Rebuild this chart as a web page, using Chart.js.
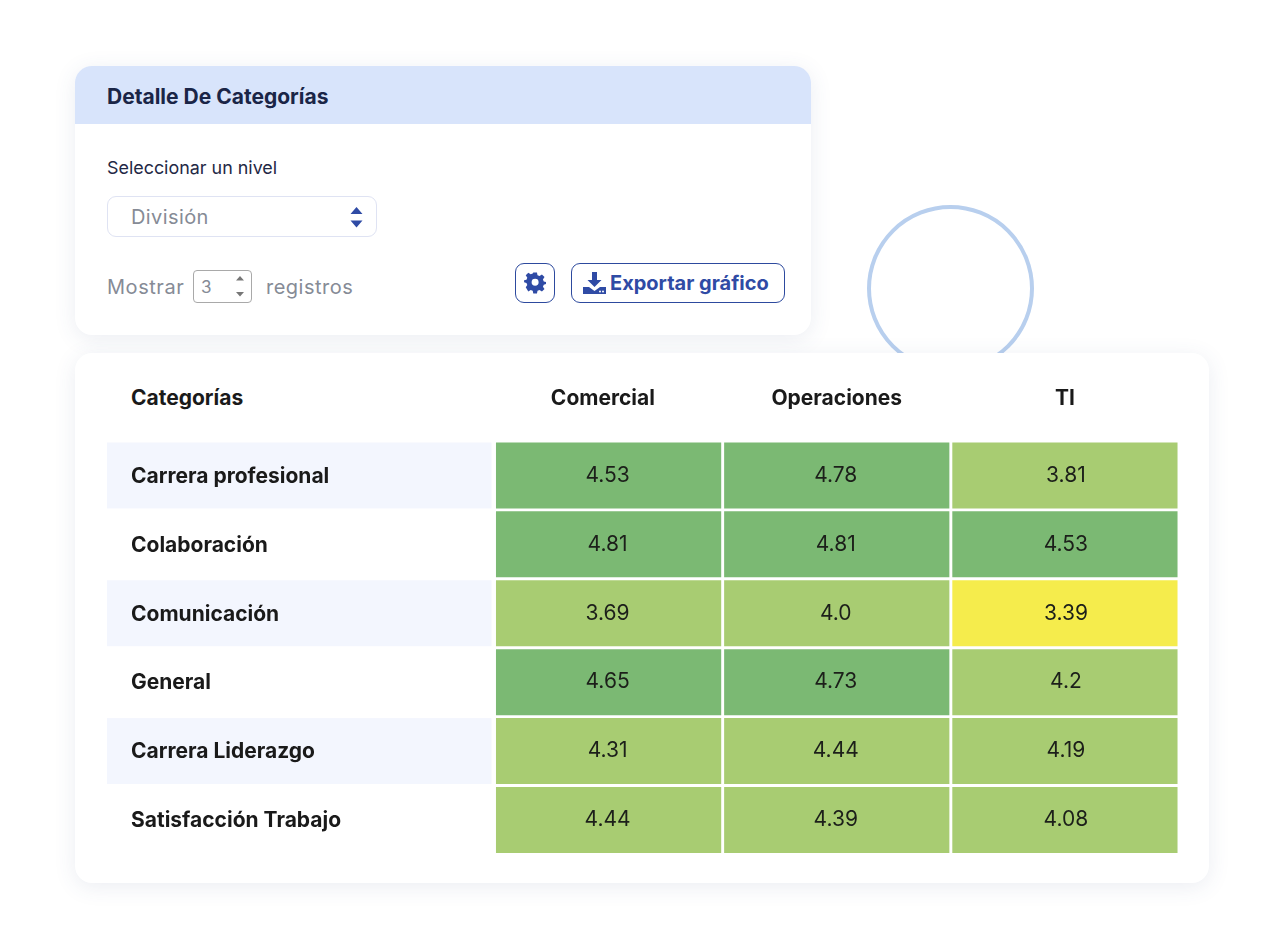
<!DOCTYPE html>
<html lang="es">
<head>
<meta charset="utf-8">
<title>Detalle De Categorías</title>
<script src="https://cdn.jsdelivr.net/npm/chart.js@4"></script>
<style>
*{box-sizing:border-box}
html,body{margin:0;padding:0;background:#fff}
body{width:1280px;height:950px;position:relative;overflow:hidden;font-family:Inter,sans-serif}
.abs{position:absolute;white-space:nowrap;line-height:1}
.ring{position:absolute;left:867px;top:205px;width:167px;height:167px;border:4.5px solid #b8cfee;border-radius:50%}
.card{position:absolute;background:#fff;border-radius:17px;box-shadow:0 4px 22px rgba(60,80,130,.10)}
#top{left:75px;top:66px;width:736px;height:269px;overflow:hidden}
#head{position:absolute;left:0;top:0;width:736px;height:58px;background:#d8e4fb}
#bottom{left:75px;top:353px;width:1134px;height:530px}
.select{left:107px;top:196px;width:270px;height:41px;border:1px solid #dfe3f3;border-radius:9px;background:#fff}
.spin{left:193px;top:270px;width:59px;height:33px;border:1px solid #a9a9a9;border-radius:4px}
.btn{border:1.3px solid #2d4a9e;border-radius:9px;background:#fff}
#wrap{position:absolute;left:107px;top:375px;width:1072px;height:492px}
</style>
</head>
<body>
<div class="ring"></div>
<div class="card" id="top"><div id="head"></div></div>
<div class="card" id="bottom"></div>

<div class="abs" style="left:107px;top:86px;font-size:21px;font-weight:700;color:#1a2547">Detalle De Categorías</div>
<div class="abs" style="left:107px;top:159px;font-size:17.9px;color:#1f2845">Seleccionar un nivel</div>
<div class="abs select"></div>
<div class="abs" style="left:131px;top:207px;font-size:20px;letter-spacing:.4px;color:#868b96">División</div>
<svg class="abs" style="left:350px;top:207px" width="13" height="21" viewBox="0 0 13 21"><path d="M6.5 0 L12.5 7 H.5Z M.5 13.5 H12.5 L6.5 20.5Z" fill="#2f4ba5"/></svg>
<div class="abs" style="left:107px;top:277px;font-size:20px;letter-spacing:.55px;color:#868b96">Mostrar</div>
<div class="abs spin"></div>
<div class="abs" style="left:201px;top:279px;font-size:17px;color:#868b96">3</div>
<svg class="abs" style="left:235px;top:276px" width="10" height="21" viewBox="0 0 10 21"><path d="M5 0 L9 4.500 H1Z M1 16 H9 L5 20.500Z" fill="#777"/></svg>
<div class="abs" style="left:266px;top:277px;font-size:20px;letter-spacing:.5px;color:#868b96">registros</div>

<div class="abs btn" style="left:515px;top:263px;width:40px;height:40px"></div>
<svg class="abs" style="left:524px;top:272px" width="22" height="22" viewBox="0 0 22 22"><path fill="#2f4ba5" fill-rule="evenodd" d="M9 .5h4l.6 3 2.200.9 2.600-1.700 2.800 2.800-1.700 2.600.9 2.200 2.600.6v2.200l-2.600.7-.9 2.200 1.700 2.500-2.800 2.800-2.600-1.700-2.200.9-.6 2.900H9l-.6-2.900-2.200-.9-2.600 1.700L.8 16.600l1.700-2.500-.9-2.200L-1 11.200V9l2.600-.6.9-2.200L.8 3.600l2.800-2.800 2.600 1.700 2.200-.9zM11 7.300a3.800 3.800 0 1 0 0 7.600 3.800 3.800 0 0 0 0-7.600z" transform="translate(1 0) scale(.92)"/></svg>
<div class="abs btn" style="left:571px;top:263px;width:214px;height:40px"></div>
<svg class="abs" style="left:583px;top:271px" width="23" height="24" viewBox="0 0 23 24"><path fill="#2f4ba5" d="M9 1h5v8h4.500l-7 7-7-7H9z"/><path fill="#2f4ba5" d="M0 16h6l5.500 4 5.500-4h6v7H0z"/><circle cx="17" cy="20.500" r="1" fill="#fff"/><circle cx="20" cy="20.500" r="1" fill="#fff"/></svg>
<div class="abs" style="left:610px;top:273px;font-size:20px;font-weight:700;color:#2f4ba5">Exportar gráfico</div>

<div class="abs" style="left:131px;top:387px;font-size:21px;font-weight:700;color:#1a1a1a">Categorías</div>
<div id="wrap"><canvas id="heat"></canvas></div>

<script>
const categories = ["Carrera profesional", "Colaboración", "Comunicación", "General", "Carrera Liderazgo", "Satisfacción Trabajo"];
const divisions = ["Comercial", "Operaciones", "TI"];
const comercial = ["4.53", "4.81", "3.69", "4.65", "4.31", "4.44"];
const operaciones = ["4.78", "4.81", "4.0", "4.73", "4.44", "4.39"];
const ti = ["3.81", "4.53", "3.39", "4.2", "4.19", "4.08"];
const seriesList = [comercial, operaciones, ti];

const cellColor = v => v >= 4.5 ? "#7bb973" : v >= 3.5 ? "#a8cc72" : "#f5ec4c";
const headerNudge = [-0.025, 0, 0];
const valueNudge = [-1, -1, 1];

const datasets = seriesList.map((values, col) => ({
  label: divisions[col],
  data: values.map((v, row) => ({ x: [col, col + 1], y: categories[row], v })),
  backgroundColor: values.map(v => cellColor(parseFloat(v))),
  borderColor: "#ffffff",
  borderWidth: 1.8,
  borderSkipped: false,
  barPercentage: 1,
  categoryPercentage: 1,
  grouped: false
}));

const rowBands = {
  id: "rowBands",
  beforeDraw(chart) {
    const { ctx, scales: { y } } = chart;
    const step = y.getPixelForValue(1) - y.getPixelForValue(0);
    ctx.save();
    ctx.fillStyle = "#f3f6fe";
    categories.forEach((c, i) => {
      if (i % 2 === 0) {
        ctx.fillRect(0, y.getPixelForValue(i) - step / 2 + 1.5, chart.chartArea.left - 3, step - 3);
      }
    });
    ctx.restore();
  }
};

const cellValues = {
  id: "cellValues",
  afterDatasetsDraw(chart) {
    const { ctx } = chart;
    ctx.save();
    ctx.font = "400 21px Inter, sans-serif";
    ctx.fillStyle = "#1c1f1a";
    ctx.textAlign = "center";
    ctx.textBaseline = "middle";
    chart.data.datasets.forEach((ds, d) => {
      chart.getDatasetMeta(d).data.forEach((bar, i) => {
        const c = bar.getCenterPoint();
        ctx.fillText(ds.data[i].v, c.x + valueNudge[d], c.y);
      });
    });
    ctx.restore();
  }
};

new Chart(document.getElementById("heat"), {
  type: "bar",
  data: { labels: categories, datasets },
  plugins: [rowBands, cellValues],
  options: {
    indexAxis: "y",
    responsive: true,
    maintainAspectRatio: false,
    animation: false,
    layout: { padding: { left: 24, right: 0, top: 0, bottom: 0 } },
    plugins: { legend: { display: false }, tooltip: { enabled: false } },
    scales: {
      x: {
        type: "linear",
        position: "top",
        min: 0,
        max: divisions.length,
        grid: { display: false, drawTicks: false },
        border: { display: false },
        afterBuildTicks(axis) { axis.ticks = divisions.map((d, i) => ({ value: i + 0.5 + headerNudge[i] })); },
        afterFit(axis) { axis.height = 66; },
        ticks: {
          autoSkip: false,
          maxRotation: 0,
          padding: 30,
          color: "#1a1a1a",
          font: { family: "Inter, sans-serif", size: 21, weight: "700" },
          callback: (v) => divisions[Math.floor(v)]
        }
      },
      y: {
        type: "category",
        grid: { display: false, drawTicks: false },
        border: { display: false },
        afterFit(axis) { axis.width = 363.5; },
        ticks: {
          crossAlign: "far",
          padding: 0,
          labelOffset: 1,
          color: "#1a1a1a",
          font: { family: "Inter, sans-serif", size: 21, weight: "700" }
        }
      }
    }
  }
});
</script>
</body>
</html>
